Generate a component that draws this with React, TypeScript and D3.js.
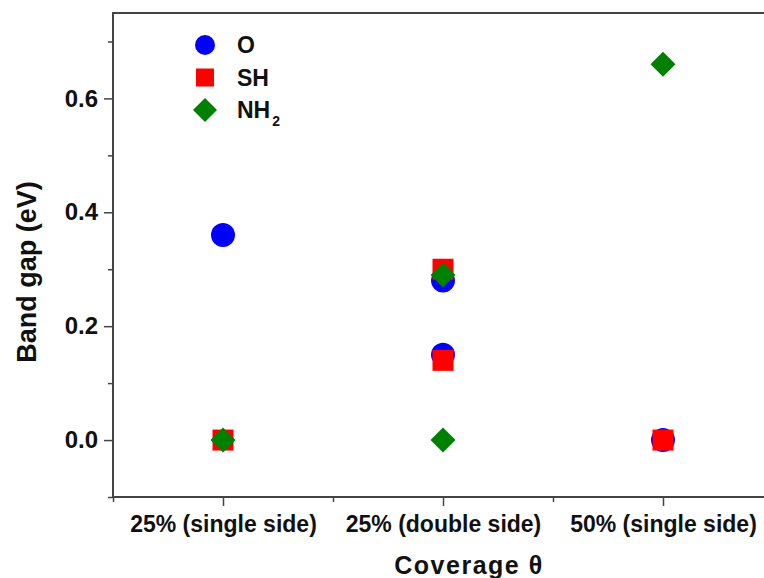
import React, { useEffect, useRef } from 'react';
import * as d3 from 'd3';

// Categories on the x axis
const categories = ['25% (single side)', '25% (double side)', '50% (single side)'];

// Series points: category index (1-based) and band gap (eV)
const oCats = [1, 2, 2, 3];
const oValues = [0.36, 0.28, 0.15, 0.0];
const shCats = [1, 2, 2, 3];
const shValues = [0.0, 0.3, 0.14, 0.0];
const nh2Cats = [1, 2, 2, 3];
const nh2Values = [0.0, 0.29, 0.0, 0.66];

const yMajorTicks = [0.0, 0.2, 0.4, 0.6];
const yMinorTicks = [-0.1, 0.1, 0.3, 0.5, 0.7];
const xMinorTicks = [0.5, 1.5, 2.5, 3.5];

export default function App() {
    const ref = useRef<SVGSVGElement>(null);

    useEffect(() => {
        const svg = d3.select(ref.current);
        svg.selectAll('*').remove();

        const width = 764;
        const height = 578;
        const left = 113, right = 773, top = 13, bottom = 497;
        const font = 'Liberation Sans, Arial, sans-serif';
        const axisColor = '#444';

        const x = d3.scaleLinear().domain([0.5, 3.5]).range([left, right]);
        const y = d3.scaleLinear().domain([-0.1, 0.75]).range([bottom, top]);

        svg.attr('width', width).attr('height', height);

        // frame
        svg.append('rect')
            .attr('x', left).attr('y', top)
            .attr('width', right - left).attr('height', bottom - top)
            .attr('fill', 'none')
            .attr('stroke', axisColor)
            .attr('stroke-width', 2);

        // y axis major
        const yAxis = svg.append('g')
            .attr('transform', `translate(${left},0)`)
            .call(d3.axisLeft(y).tickValues(yMajorTicks).tickFormat(d3.format('.1f')).tickSize(9).tickSizeOuter(0).tickPadding(6));
        yAxis.select('.domain').remove();
        yAxis.selectAll('line').attr('stroke', axisColor).attr('stroke-width', 1.5);
        yAxis.selectAll('text')
            .attr('font-family', font).attr('font-size', 24).attr('font-weight', 'bold').attr('fill', '#111');

        // y axis minor
        const yMinor = svg.append('g')
            .attr('transform', `translate(${left},0)`)
            .call(d3.axisLeft(y).tickValues(yMinorTicks).tickFormat(() => '').tickSize(5).tickSizeOuter(0));
        yMinor.select('.domain').remove();
        yMinor.selectAll('line').attr('stroke', axisColor).attr('stroke-width', 1.5);

        // x axis major
        const xAxis = svg.append('g')
            .attr('transform', `translate(0,${bottom})`)
            .call(d3.axisBottom(x).tickValues([1, 2, 3]).tickFormat((d) => categories[+d - 1]).tickSize(9).tickSizeOuter(0).tickPadding(10));
        xAxis.select('.domain').remove();
        xAxis.selectAll('line').attr('stroke', axisColor).attr('stroke-width', 1.5);
        xAxis.selectAll('text')
            .attr('font-family', font).attr('font-size', 23).attr('font-weight', 'bold').attr('fill', '#111');

        // x axis minor
        const xMinor = svg.append('g')
            .attr('transform', `translate(0,${bottom})`)
            .call(d3.axisBottom(x).tickValues(xMinorTicks).tickFormat(() => '').tickSize(5).tickSizeOuter(0));
        xMinor.select('.domain').remove();
        xMinor.selectAll('line').attr('stroke', axisColor).attr('stroke-width', 1.5);

        // axis titles
        svg.append('text')
            .attr('transform', `translate(36,${(top + bottom) / 2 + 17}) rotate(-90)`)
            .attr('text-anchor', 'middle')
            .attr('font-family', font).attr('font-size', 27).attr('font-weight', 'bold').attr('fill', '#111')
            .text('Band gap (eV)');

        svg.append('text')
            .attr('x', 469).attr('y', 574)
            .attr('text-anchor', 'middle')
            .attr('font-family', font).attr('font-size', 25).attr('font-weight', 'bold').attr('fill', '#111')
            .attr('letter-spacing', 1.5)
            .text('Coverage θ');

        // series
        const series = [
            { name: 'O', cats: oCats, values: oValues, color: '#0000ff', type: d3.symbolCircle, size: 452, legendSize: 314, rotate: 0 },
            { name: 'SH', cats: shCats, values: shValues, color: '#ff0000', type: d3.symbolSquare, size: 441, legendSize: 324, rotate: 0 },
            { name: 'NH2', cats: nh2Cats, values: nh2Values, color: '#008000', type: d3.symbolSquare, size: 313, legendSize: 288, rotate: 45 },
        ];

        series.forEach((s) => {
            const sym = d3.symbol().type(s.type).size(s.size);
            svg.append('g')
                .selectAll('path')
                .data(s.values.map((v, i) => ({ c: s.cats[i], v })))
                .enter().append('path')
                .attr('d', sym)
                .attr('transform', (d) => `translate(${x(d.c)},${y(d.v)}) rotate(${s.rotate})`)
                .attr('fill', s.color);
        });

        // legend
        const legend = svg.append('g');
        series.forEach((s, i) => {
            const ly = 45 + i * 32.5;
            legend.append('path')
                .attr('d', d3.symbol().type(s.type).size(s.legendSize))
                .attr('transform', `translate(205,${ly}) rotate(${s.rotate})`)
                .attr('fill', s.color);
            const t = legend.append('text')
                .attr('x', 237).attr('y', ly + 8)
                .attr('font-family', font).attr('font-size', 23).attr('font-weight', 'bold').attr('fill', '#111');
            if (s.name === 'NH2') {
                t.append('tspan').text('NH');
                t.append('tspan').attr('font-size', 14).attr('dy', 8).attr('dx', 2).text('2');
            } else {
                t.text(s.name);
            }
        });
    }, []);

    return (
        <svg ref={ref} style={{ position: 'absolute', left: 0, top: 0, background: '#fff' }}></svg>
    );
}
